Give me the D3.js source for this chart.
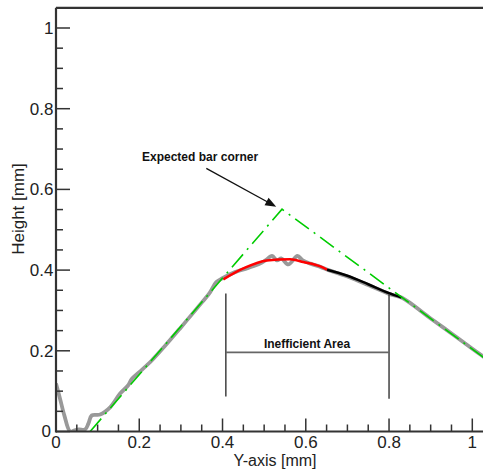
<!DOCTYPE html>
<html><head><meta charset="utf-8">
<script src="https://cdn.jsdelivr.net/npm/d3@7"></script>
<style>body{margin:0;background:#fff}svg{display:block}text{font-family:"Liberation Sans",Arial,sans-serif}</style>
</head><body><svg id="c" width="483" height="473"></svg>
<script>
const measuredX = [0,0.01,0.02,0.034,0.045,0.055,0.07,0.078,0.086,0.106,0.13,0.154,0.173,0.182,0.2,0.23,0.26,0.3,0.34,0.37,0.385,0.40,0.43,0.46,0.49,0.503,0.519,0.531,0.541,0.558,0.580,0.593,0.611,0.635,0.655,0.70,0.75,0.80,0.83,0.9,0.95,1.0,1.03];
const measuredY = [0.119,0.08,0.04,0.0,0.003,0.005,0.005,0.02,0.04,0.042,0.06,0.094,0.114,0.13,0.147,0.176,0.21,0.258,0.307,0.345,0.37,0.38,0.395,0.405,0.416,0.424,0.435,0.424,0.429,0.414,0.435,0.424,0.416,0.408,0.400,0.384,0.363,0.341,0.332,0.28,0.243,0.205,0.183];
const fitX = [0.402,0.45,0.506,0.5625,0.594,0.635,0.651];
const fitY = [0.377,0.404,0.424,0.427,0.420,0.409,0.401];
const tailX = [0.651,0.70,0.75,0.80,0.83];
const tailY = [0.401,0.386,0.365,0.343,0.332];
const expectedX = [0.082,0.543,1.05];
const expectedY = [0.0,0.551,0.166];
const xTicks = [0,0.2,0.4,0.6,0.8,1];
const xTickLabels = ["0","0.2","0.4","0.6","0.8","1"];
const yTicks = [0,0.2,0.4,0.6,0.8,1];
const yTickLabels = ["0","0.2","0.4","0.6","0.8","1"];
const areaBounds = [0.408,0.8];

const svg = d3.select("#c");
const x = d3.scaleLinear().domain([0,1.05]).range([56,56+1.05*416.3]);
const y = d3.scaleLinear().domain([0,1.05]).range([431.5,431.5-1.05*403.5]);

svg.append("defs").append("clipPath").attr("id","clip").append("rect")
  .attr("x",56).attr("y",y(1.05)).attr("width",440).attr("height",431.5-y(1.05));

const line = d3.line().x(d=>x(d[0])).y(d=>y(d[1]));
const g = svg.append("g").attr("clip-path","url(#clip)");
g.append("path").datum(measuredX.map((v,i)=>[v,measuredY[i]]))
  .attr("d",line.curve(d3.curveCatmullRom.alpha(0.5))).attr("fill","none").attr("stroke","#999").attr("stroke-width",3.8).attr("stroke-linejoin","round");
g.append("path").datum(fitX.map((v,i)=>[v,fitY[i]]))
  .attr("d",line.curve(d3.curveMonotoneX)).attr("fill","none").attr("stroke","#ff0000").attr("stroke-width",2.5);
g.append("path").datum(tailX.map((v,i)=>[v,tailY[i]]))
  .attr("d",line.curve(d3.curveMonotoneX)).attr("fill","none").attr("stroke","#000").attr("stroke-width",2.5);
line.curve(d3.curveLinear);
g.append("path").datum(expectedX.map((v,i)=>[v,expectedY[i]]))
  .attr("d",line).attr("fill","none").attr("stroke","#00cc00").attr("stroke-width",1.6)
  .attr("stroke-dasharray","17,6,2,6");

// axes
const ax = svg.append("g").attr("stroke","#333");
const xMinor = d3.range(0,1.051,0.05);
ax.selectAll(".xm").data(xMinor).enter().append("line")
  .attr("x1",d=>x(d)).attr("x2",d=>x(d)).attr("y1",431.5).attr("y2",d=>xTicks.some(t=>Math.abs(t-d)<1e-6)?418.5:424.5).attr("stroke-width",1.5);
ax.selectAll(".ym").data(xMinor).enter().append("line")
  .attr("y1",d=>y(d)).attr("y2",d=>y(d)).attr("x1",56).attr("x2",d=>yTicks.some(t=>Math.abs(t-d)<1e-6)?70:63).attr("stroke-width",1.5);
ax.append("line").attr("x1",56).attr("x2",500).attr("y1",431.5).attr("y2",431.5).attr("stroke-width",2.2);
ax.append("line").attr("x1",56).attr("x2",56).attr("y1",y(1.05)).attr("y2",432.5).attr("stroke-width",2.2);
ax.append("line").attr("x1",56).attr("x2",500).attr("y1",y(1.05)).attr("y2",y(1.05)).attr("stroke-width",2.2);

svg.selectAll(".xl").data(xTicks).enter().append("text")
  .attr("x",d=>x(d)).attr("y",447.5).attr("text-anchor","middle").attr("font-size",17).attr("fill","#222")
  .text((d,i)=>xTickLabels[i]);
svg.selectAll(".yl").data(yTicks).enter().append("text")
  .attr("x",d=>d===0?51:53.5).attr("y",d=>y(d)+(d===0?5:6)).attr("text-anchor","end").attr("font-size",17).attr("fill","#222")
  .text((d,i)=>yTickLabels[i]);
svg.append("text").attr("x",275).attr("y",465.5).attr("text-anchor","middle").attr("font-size",16).attr("fill","#222").text("Y-axis [mm]");
svg.append("text").attr("transform","translate(23.5,209) rotate(-90)").attr("text-anchor","middle").attr("font-size",17).attr("fill","#222").text("Height [mm]");

// annotations
svg.append("text").attr("x",x(0.346)).attr("y",y(0.67)).attr("text-anchor","middle").attr("font-size",12).attr("font-weight","bold").attr("fill","#111").text("Expected bar corner");
const ax0=x(0.361), ay0=y(0.652), ax1=x(0.529), ay1=y(0.557);
const ang=Math.atan2(ay1-ay0,ax1-ax0), L=11, W=4.2;
svg.append("line").attr("x1",ax0).attr("y1",ay0).attr("x2",ax1-Math.cos(ang)*L*0.8).attr("y2",ay1-Math.sin(ang)*L*0.8).attr("stroke","#111").attr("stroke-width",1.3);
svg.append("path").attr("fill","#111").attr("d",
  `M${ax1},${ay1}L${ax1-Math.cos(ang)*L-Math.sin(ang)*W},${ay1-Math.sin(ang)*L+Math.cos(ang)*W}L${ax1-Math.cos(ang)*L+Math.sin(ang)*W},${ay1-Math.sin(ang)*L-Math.cos(ang)*W}Z`);

svg.append("line").attr("x1",x(areaBounds[0])).attr("x2",x(areaBounds[0])).attr("y1",y(0.342)).attr("y2",y(0.087)).attr("stroke","#333").attr("stroke-width",1.4);
svg.append("line").attr("x1",x(areaBounds[1])).attr("x2",x(areaBounds[1])).attr("y1",y(0.34)).attr("y2",y(0.081)).attr("stroke","#333").attr("stroke-width",1.4);
svg.append("line").attr("x1",x(areaBounds[0])).attr("x2",x(areaBounds[1])).attr("y1",y(0.196)).attr("y2",y(0.196)).attr("stroke","#666").attr("stroke-width",1.6);
svg.append("text").attr("x",x(0.603)).attr("y",y(0.206)).attr("text-anchor","middle").attr("font-size",12).attr("font-weight","bold").attr("fill","#111").text("Inefficient Area");
</script></body></html>
